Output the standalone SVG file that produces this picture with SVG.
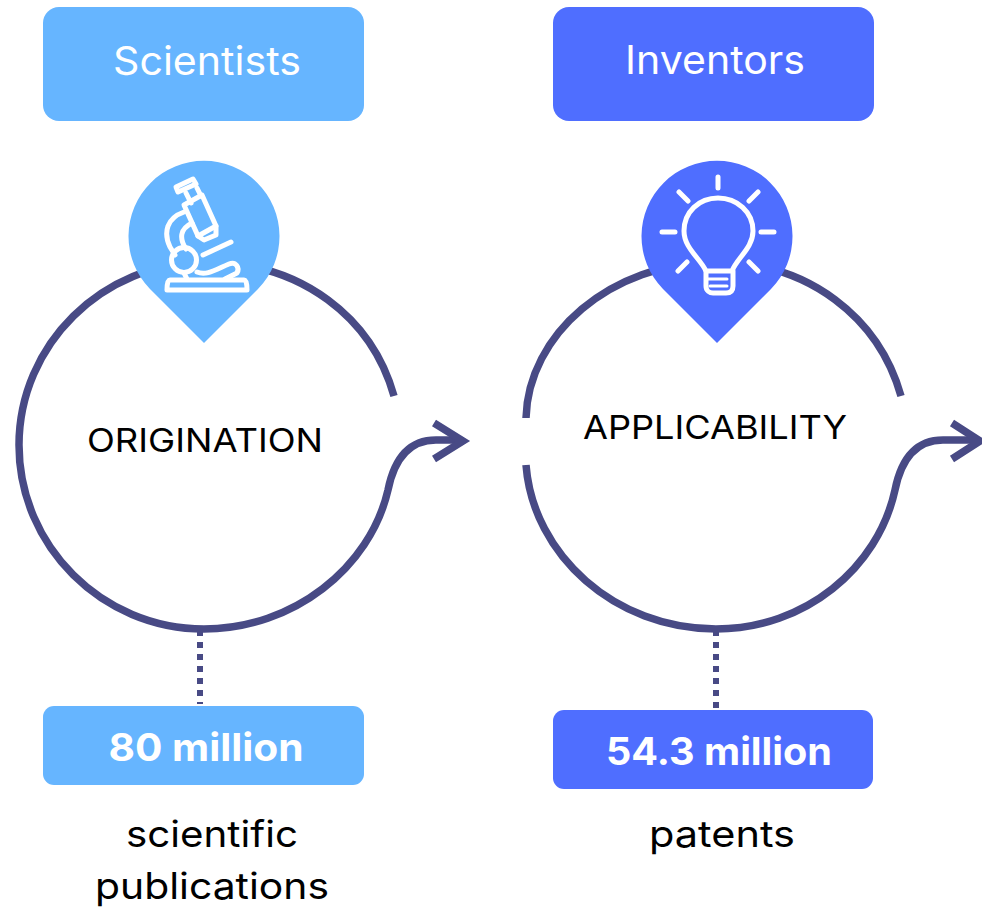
<svg xmlns="http://www.w3.org/2000/svg" width="982" height="910" viewBox="0 0 982 910">
<style>
.lbl{font-family:"Inter","Liberation Sans",sans-serif;}
.w{fill:#fff}
.c{fill:none;stroke:#484a85;stroke-width:7.5}
.d{fill:none;stroke:#484a85;stroke-width:6;stroke-dasharray:6 6}
.i{fill:none;stroke:#fff;stroke-width:5;stroke-linecap:round;stroke-linejoin:round}
.sky{fill:#66b5ff}
.blue{fill:#4f6eff}
</style>
<g id="connectors">
<path class="c" d="M394 396C372 318 302 262 206 262C102 262 19 345 19 445C19 546 102 629 204 629C293 629 370 568 388 490C394 460 408 440 436 440L460 440"/>
<path class="c" d="M434 423L463 441L434 459"/>
<path class="c" d="M901 396C879 318 809 262 716 262C610 262 528 335 526 418M526 465C533 555 615 629 716 629C805 629 878 568 895 490C901 460 915 440 943 440L975 440"/>
<path class="c" d="M952 423L980 441L952 459"/>
<path class="d" d="M200 630V704"/>
<path class="d" d="M716 630V710"/>
</g>
<g id="scientists">
<rect class="sky" x="43" y="7" width="321" height="114" rx="16"/>
<text class="lbl w" x="207" y="75" font-size="39" text-anchor="middle" textLength="188" lengthAdjust="spacingAndGlyphs">Scientists</text>
</g>
<g id="inventors">
<rect class="blue" x="553" y="7" width="321" height="114" rx="16"/>
<text class="lbl w" x="715" y="74" font-size="39" text-anchor="middle" textLength="180" lengthAdjust="spacingAndGlyphs">Inventors</text>
</g>
<g id="microscope-pin">
<path class="sky" d="M204 343L150 289A75.500 75.500 0 1 1 258 289Z"/>
<g class="i">
<path d="M176 187L193 179L196 184L178 192Z"/>
<path d="M186 193L191 203M197 188L201 196"/>
<path d="M184 205L202 195L216 226L198 236Z"/>
<path d="M198 236L204 240L216 235L216 226"/>
<path d="M184 212C167 218 163 232 170 247L175 255M192 223C180 229 179 238 186 249"/>
<path d="M203 255L231 242"/>
<circle cx="184" cy="260" r="12.500"/>
<path d="M197 272C206 276 215 270 229 264C236 261 240 268 237 273L225 279"/>
<path d="M170 280H244C246 280 247 283 247 290H167C167 283 168 280 170 280Z"/>
<path d="M184 273L187 279"/>
</g>
</g>
<g id="bulb-pin">
<path class="blue" d="M717 343L663 289A75.500 75.500 0 1 1 771 289Z"/>
<g class="i">
<path d="M718 177V188M679 192L688 201M758 192L749 201M662 232H675M761 232H774M678 271L687 262M758 271L749 262"/>
<path d="M706 271C700 258 684 248 684 231C684 212 699 198 718 198C737 198 753 212 753 231C753 248 737 258 732 271Z"/>
<path d="M706 271V286C706 291 710 293 713 293H726C730 293 733 291 733 286V271"/>
<path d="M708 279H727M710 286H727" stroke-width="3"/>
</g>
</g>
<g id="origination"><text class="lbl" x="205" y="452" font-size="33" text-anchor="middle" textLength="236" lengthAdjust="spacingAndGlyphs" fill="#000">ORIGINATION</text></g>
<g id="applicability"><text class="lbl" x="715" y="439" font-size="33" text-anchor="middle" textLength="264" lengthAdjust="spacingAndGlyphs" fill="#000">APPLICABILITY</text></g>
<g id="stat-80">
<rect class="sky" x="43" y="706" width="321" height="79" rx="11"/>
<text class="lbl w" x="206" y="761" font-size="38" font-weight="700" text-anchor="middle" textLength="195" lengthAdjust="spacingAndGlyphs">80 million</text>
</g>
<g id="stat-54">
<rect class="blue" x="553" y="710" width="320" height="79" rx="11"/>
<text class="lbl w" x="719" y="765" font-size="38" font-weight="700" text-anchor="middle" textLength="226" lengthAdjust="spacingAndGlyphs">54.3 million</text>
</g>
<g id="caption-1" class="lbl" fill="#000" font-size="37" text-anchor="middle">
<text x="212" y="847" textLength="172" lengthAdjust="spacingAndGlyphs">scientific</text>
<text x="212" y="899" textLength="234" lengthAdjust="spacingAndGlyphs">publications</text>
</g>
<g id="caption-2"><text class="lbl" x="722" y="847" font-size="37" text-anchor="middle" textLength="146" lengthAdjust="spacingAndGlyphs" fill="#000">patents</text></g>
</svg>
